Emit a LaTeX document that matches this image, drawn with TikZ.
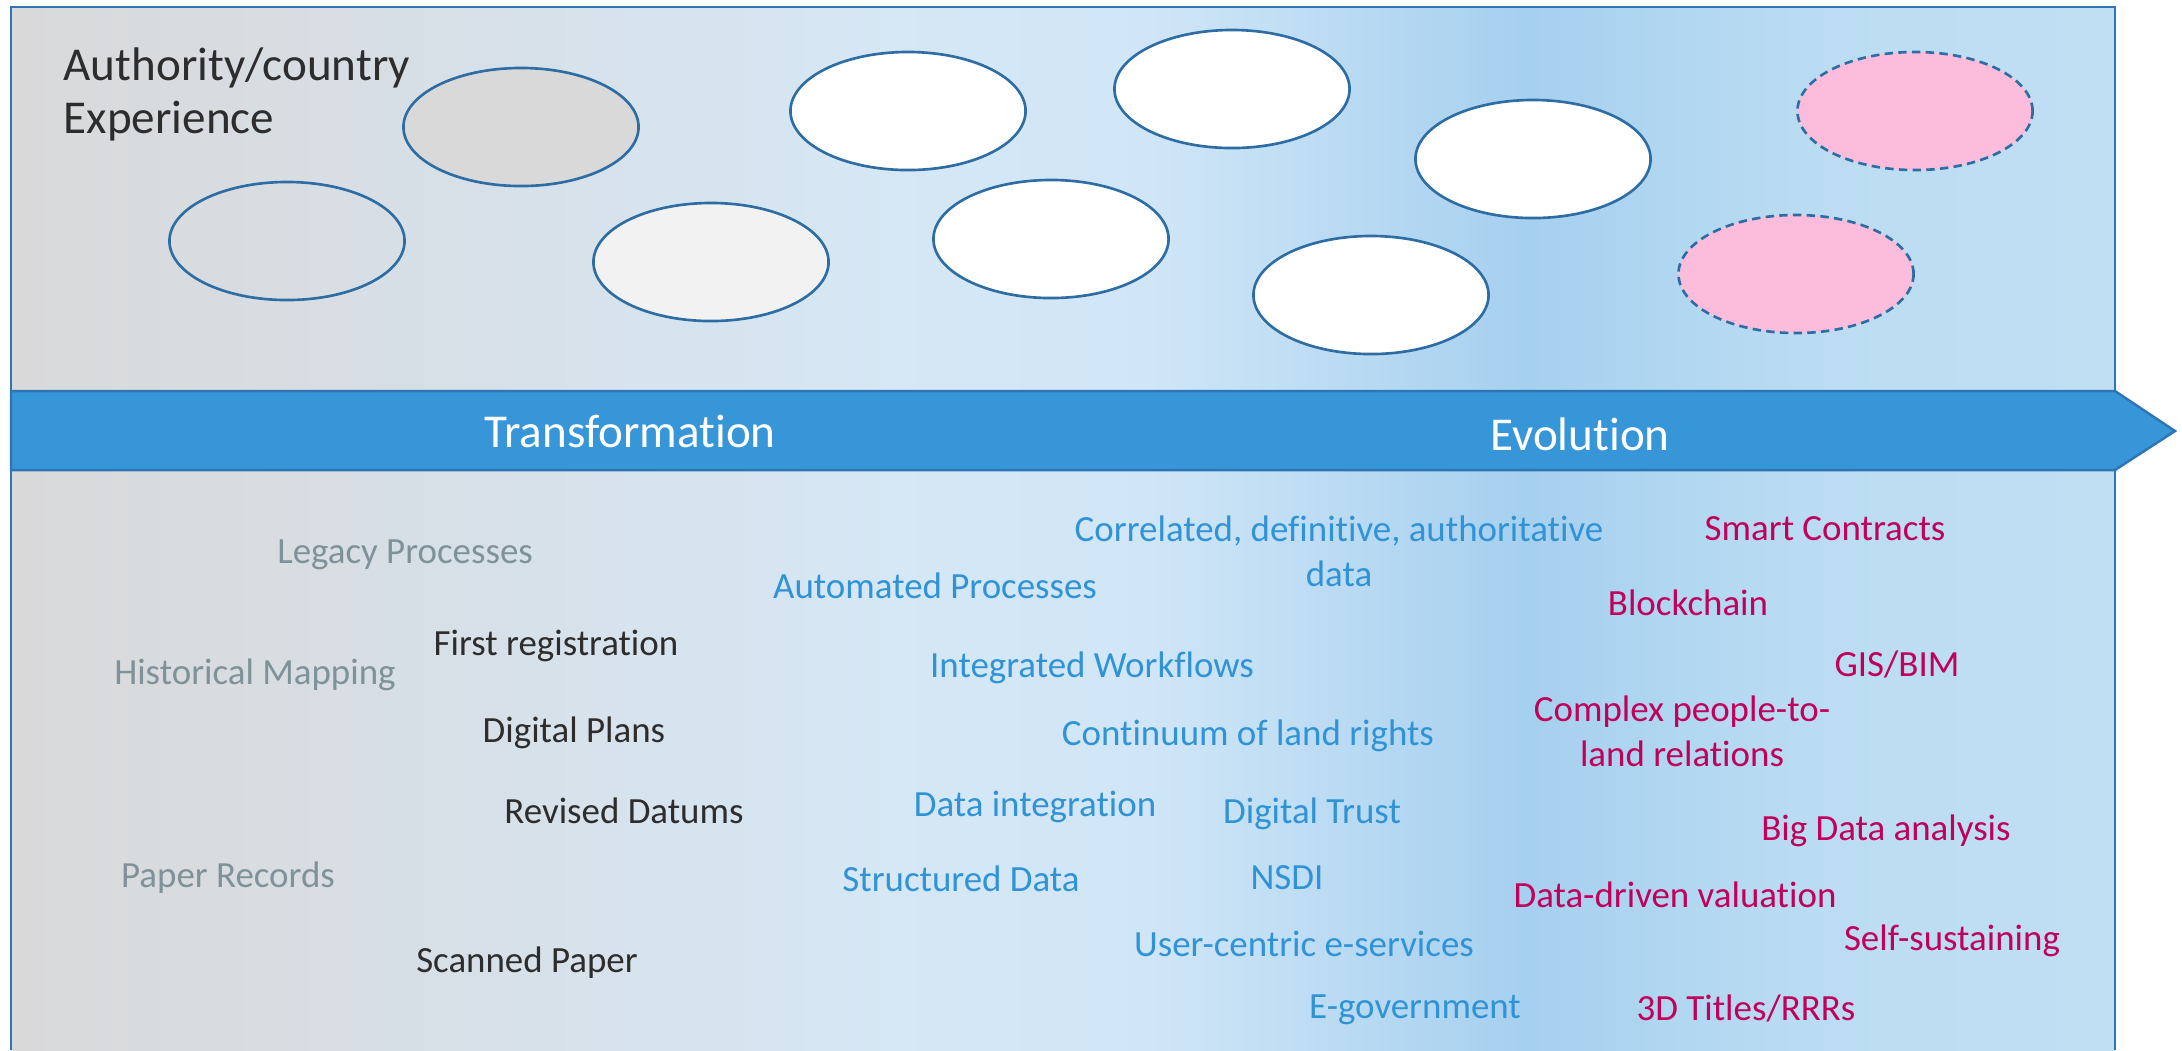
\documentclass[tikz,border=0pt]{standalone}
\usepackage{fontspec}
\setmainfont{Carlito}[Ligatures=CommonOff]
\usepackage{tikz}
\usetikzlibrary{shapes.geometric}
\definecolor{bandblue}{RGB}{55,150,216}
\definecolor{edgeblue}{RGB}{46,117,182}
\definecolor{ringblue}{RGB}{46,109,164}
\definecolor{oldgray}{RGB}{128,146,153}
\definecolor{txtdark}{RGB}{45,45,45}
\definecolor{nowblue}{RGB}{47,147,214}
\definecolor{newpink}{RGB}{192,0,90}
\definecolor{pinkfill}{RGB}{252,189,220}
\definecolor{bga}{RGB}{217,217,218}
\definecolor{bgb}{RGB}{215,224,232}
\definecolor{bgc}{RGB}{214,231,245}
\definecolor{bgd}{RGB}{208,230,247}
\definecolor{bge}{RGB}{166,208,239}
\definecolor{bgf}{RGB}{186,220,242}
\definecolor{bgg}{RGB}{193,223,243}
\pgfdeclarehorizontalshading{bgshade}{100bp}{color(0bp)=(bga); color(25bp)=(bga);
   color(36bp)=(bgb); color(46bp)=(bgc); color(52bp)=(bgd); color(61bp)=(bge);
   color(67.5bp)=(bgf); color(75bp)=(bgg); color(100bp)=(bgg)}
\tikzset{
   ring/.style={ellipse, draw=ringblue, line width=0.75pt,
      minimum width=2.35cm, minimum height=1.18cm, inner sep=0pt},
   future/.style={ring, fill=pinkfill, dash pattern=on 2.4pt off 1.5pt},
   small text/.style={font=\fontsize{10.5}{12.7}\selectfont, align=center, inner sep=0pt},
   oldtxt/.style={small text, text=oldgray},
   basetxt/.style={small text, text=txtdark},
   nowtxt/.style={small text, text=nowblue},
   newtxt/.style={small text, text=newpink},
   bandtxt/.style={font=\fontsize{13.4}{15}\selectfont, text=white, inner sep=0pt},
    }
\begin{document}
\begin{tikzpicture}[x=0.01cm, y=-0.01cm]
   \useasboundingbox (0,0) rectangle (2182,1050);
   % background and frame
   \shade[shading=bgshade] (11,7) rectangle (2115,1050);
   \draw[edgeblue, line width=0.7pt] (11,1050) -- (11,7) -- (2115,7) -- (2115,1050);
   \node[anchor=west, align=left, inner sep=0pt, text=txtdark,
      font=\fontsize{13.4}{15.1}\selectfont] (title) at (63,94) {Authority/country\\Experience};
   % experience bubbles
   \node[ring] (exp1) at (287,241) {};
   \node[ring, fill=bga] (exp2) at (521,127) {};
   \node[ring, fill=black!5] (exp3) at (711,262) {};
   \node[ring, fill=white] (exp4) at (908,111) {};
   \node[ring, fill=white] (exp5) at (1051,239) {};
   \node[ring, fill=white] (exp6) at (1232,89) {};
   \node[ring, fill=white] (exp7) at (1371,295) {};
   \node[ring, fill=white] (exp8) at (1533,159) {};
   \node[future] (exp9) at (1915,111) {};
   \node[future] (exp10) at (1796,274) {};
   % arrow band
   \draw[fill=bandblue, draw=edgeblue, line width=0.7pt]
      (11,391) -- (2115,391) -- (2175,431) -- (2115,470) -- (11,470) -- cycle;
   \node[bandtxt] (transf) at (630,431) {Transformation};
   \node[bandtxt] (evol) at (1580,434) {Evolution};
   % legacy
   \node[oldtxt] (legacy) at (405,555) {Legacy Processes};
   \node[oldtxt] (histmap) at (255,675) {Historical Mapping};
   \node[oldtxt] (paper) at (228,878) {Paper Records};
   \node[basetxt] (firstreg) at (556,646) {First registration};
   \node[basetxt] (digplans) at (574,733) {Digital Plans};
   \node[basetxt] (revdat) at (624,811) {Revised Datums};
   \node[basetxt] (scanned) at (527,963) {Scanned Paper};
   % transformation
   \node[nowtxt] (correl) at (1339,551) {Correlated, definitive, authoritative\\data};
   \node[nowtxt] (autoproc) at (935,586) {Automated Processes};
   \node[nowtxt] (intwork) at (1092,668) {Integrated Workflows};
   \node[nowtxt] (contin) at (1248,736) {Continuum of land rights};
   \node[nowtxt] (dataint) at (1035,807) {Data integration};
   \node[nowtxt] (digtrust) at (1312,814) {Digital Trust};
   \node[nowtxt] (structdata) at (961,879) {Structured Data};
   \node[nowtxt] (nsdi) at (1287,878) {NSDI};
   \node[nowtxt] (usercentric) at (1304,944) {User-centric e-services};
   \node[nowtxt] (egov) at (1415,1010) {E-government};
   % evolution
   \node[newtxt] (smart) at (1825,529) {Smart Contracts};
   \node[newtxt] (blockchain) at (1688,603) {Blockchain};
   \node[newtxt] (gisbim) at (1897,664) {GIS/BIM};
   \node[newtxt] (complex) at (1682,731) {Complex people-to-\\land relations};
   \node[newtxt] (bigdata) at (1886,831) {Big Data analysis};
   \node[newtxt] (datadriven) at (1675,895) {Data-driven valuation};
   \node[newtxt] (selfsust) at (1952,941) {Self-sustaining};
   \node[newtxt] (titles3d) at (1746,1008) {3D Titles/RRRs};
\end{tikzpicture}
\end{document}
